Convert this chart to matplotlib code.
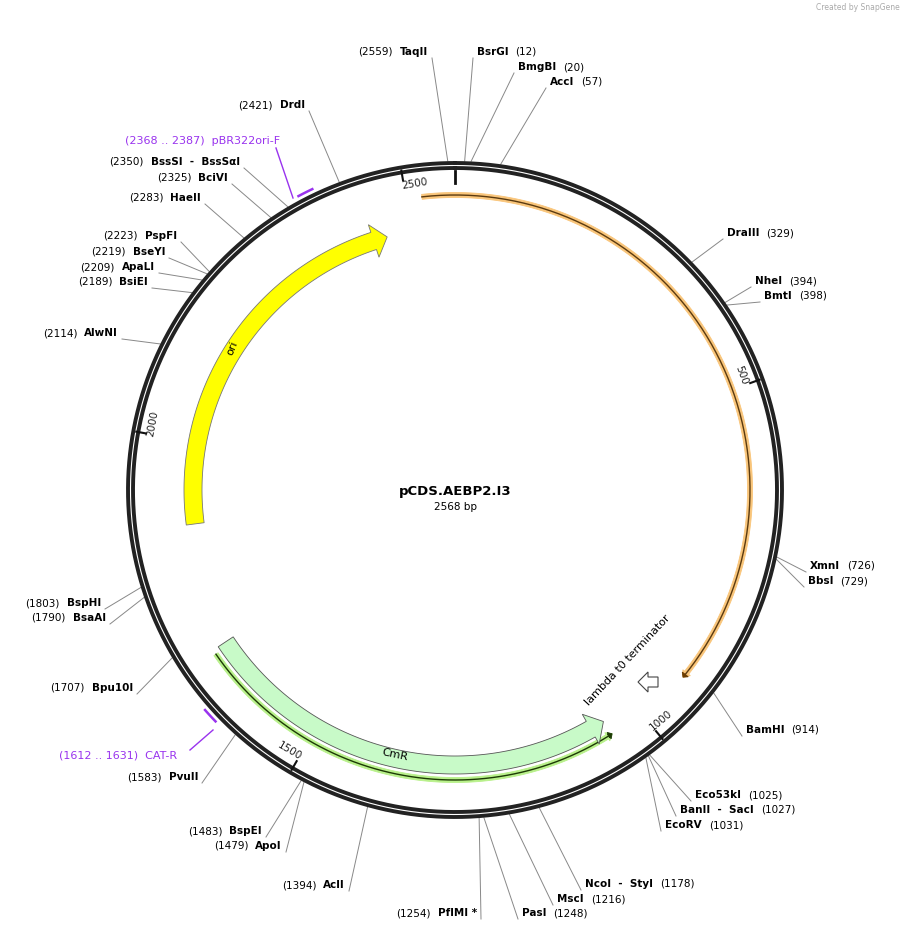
import numpy as np
import matplotlib
matplotlib.use("Agg")
import matplotlib.pyplot as plt
from matplotlib.patches import Polygon

TOTAL = 2568
NAME = "pCDS.AEBP2.I3"
# enzyme sites: name, bp, side, label x (end for L / start for R), label y
enzymes = [
    ("TaqII", 2559, "L", 428, 52), ("DrdI", 2421, "L", 305, 105),
    ("BssSI  -  BssSαI", 2350, "L", 240, 162), ("BciVI", 2325, "L", 228, 178),
    ("HaeII", 2283, "L", 201, 198), ("PspFI", 2223, "L", 177, 236),
    ("BseYI", 2219, "L", 165, 252), ("ApaLI", 2209, "L", 155, 267),
    ("BsiEI", 2189, "L", 148, 282), ("AlwNI", 2114, "L", 118, 333),
    ("BspHI", 1803, "L", 101, 603), ("BsaAI", 1790, "L", 106, 618),
    ("Bpu10I", 1707, "L", 133, 688), ("PvuII", 1583, "L", 198, 777),
    ("BspEI", 1483, "L", 262, 831), ("ApoI", 1479, "L", 282, 846),
    ("AclI", 1394, "L", 345, 885), ("PflMI *", 1254, "L", 477, 913),
    ("BsrGI", 12, "R", 477, 52), ("BmgBI", 20, "R", 518, 67),
    ("AccI", 57, "R", 550, 82), ("DraIII", 329, "R", 727, 233),
    ("NheI", 394, "R", 755, 281), ("BmtI", 398, "R", 764, 296),
    ("XmnI", 726, "R", 810, 566), ("BbsI", 729, "R", 808, 581),
    ("BamHI", 914, "R", 746, 730), ("Eco53kI", 1025, "R", 695, 795),
    ("BanII  -  SacI", 1027, "R", 680, 810), ("EcoRV", 1031, "R", 665, 825),
    ("NcoI  -  StyI", 1178, "R", 585, 884), ("MscI", 1216, "R", 557, 899),
    ("PasI", 1248, "R", 522, 913),
]
ticks = [500, 1000, 1500, 2000, 2500]

CX, CY, R = 455, 490, 327
fig = plt.figure(figsize=(9.07, 9.32), dpi=100)
ax = fig.add_axes([0, 0, 1, 1])
ax.set_xlim(0, 907); ax.set_ylim(932, 0); ax.axis("off")

def th(bp):
    return np.deg2rad(bp / TOTAL * 360.0)

def pt(bp, r):
    t = th(bp)
    return CX + r * np.sin(t), CY - r * np.cos(t)

tt = np.linspace(0, 2 * np.pi, 720)
for r in (R, R - 5):
    ax.plot(CX + r * np.sin(tt), CY - r * np.cos(tt), color="#222", lw=2.8, zorder=3)
ax.plot(*zip(pt(0, R - 8), pt(0, R - 20)), color="#111", lw=2)
for tk in ticks:
    ax.plot(*zip(pt(tk, R - 3), pt(tk, R - 13)), color="#111", lw=1.5, zorder=4)
    deg = tk / TOTAL * 360
    rot = -deg
    if 90 < deg < 270:
        rot += 180
    x, y = pt(tk - 14 if deg < 180 else tk + 14, R - 18)
    ax.text(x, y, str(tk), rotation=rot, ha="center", va="center", fontsize=7.5, color="#222")

def band(b0, b1, r, w, head, fc, ec, lw=0.6, z=4):
    d = 1 if b1 > b0 else -1
    bh = b1 - d * head
    s = np.linspace(b0, bh, 200)
    outer = [pt(b, r + w / 2) for b in s]
    inner = [pt(b, r - w / 2) for b in s[::-1]]
    hp = [pt(bh, r + w / 2 + w * 0.45), pt(b1, r), pt(bh, r - w / 2 - w * 0.45)]
    ax.add_patch(Polygon(outer + hp + inner, closed=True, fc=fc, ec=ec, lw=lw, zorder=z))

band(2522, 923 + TOTAL, 295, 5, 8, "#f9c57a", "#f9c57a", z=4)
s = np.linspace(2522, 918 + TOTAL, 300)
ax.plot(*zip(*[pt(b, 295) for b in s]), color="#5a3a10", lw=1, zorder=5)
band(918 + TOTAL, 923 + TOTAL, 295, 4, 5, "#6b3c00", "#6b3c00", z=5)
band(1680, 1050, 290, 5, 8, "#b8f08a", "#b8f08a", z=4)
s = np.linspace(1680, 1056, 300)
ax.plot(*zip(*[pt(b, 290) for b in s]), color="#1c3a05", lw=1, zorder=5)
band(1056, 1050, 290, 4, 5, "#1c3a05", "#1c3a05", z=5)
band(1873, 2461, 262, 18, 22, "#ffff00", "#777", z=6)
band(1687, 1051, 275, 18, 22, "#c8fac8", "#555", z=6)
ax.text(232, 348, "ori", rotation=68, ha="center", va="center", fontsize=8, zorder=7)
ax.text(395, 755, "CmR", rotation=-12, ha="center", va="center", fontsize=8, zorder=7)
ax.add_patch(Polygon([(638, 682), (648, 672), (648, 677), (658, 677), (658, 687), (648, 687), (648, 692)],
                     closed=True, fc="white", ec="#444", lw=0.8, zorder=6))
ax.text(628, 660, "lambda t0 terminator", rotation=47, ha="center", va="center", fontsize=8)

ax.plot(*zip(*[pt(b, R + 6) for b in np.linspace(2368, 2387, 10)]), color="#9933ee", lw=1.8)
ax.plot([293, 276], [198, 148], color="#9933ee", lw=1)
ax.text(280, 141, "(2368 .. 2387)  pBR322ori-F", ha="right", va="center", fontsize=8, color="#9933ee")
ax.plot(*zip(*[pt(b, R + 6) for b in np.linspace(1612, 1631, 10)]), color="#9933ee", lw=1.8)
ax.plot([213, 190], [730, 750], color="#9933ee", lw=1)
ax.text(177, 756, "(1612 .. 1631)  CAT-R", ha="right", va="center", fontsize=8, color="#9933ee")

fig.canvas.draw()
rend = fig.canvas.get_renderer()
inv = ax.transData.inverted()
for name, bp, side, lx, ly in enzymes:
    x0, y0 = pt(bp, R + 2)
    ax_ = lx + 4 if side == "L" else lx - 4
    ax.plot([x0, ax_], [y0, ly + 6], color="#888", lw=0.7, zorder=2)
    if side == "L":
        t = ax.text(lx, ly, name, ha="right", va="center", fontsize=7.5, fontweight="bold")
        bb = t.get_window_extent(rend)
        xs = inv.transform((bb.x0, bb.y0))[0]
        ax.text(xs - 7, ly, f"({bp})", ha="right", va="center", fontsize=7.5)
    else:
        t = ax.text(lx, ly, name, ha="left", va="center", fontsize=7.5, fontweight="bold")
        bb = t.get_window_extent(rend)
        xe = inv.transform((bb.x1, bb.y0))[0]
        ax.text(xe + 7, ly, f"({bp})", ha="left", va="center", fontsize=7.5)

ax.text(CX, 492, NAME, ha="center", va="center", fontsize=9.5, fontweight="bold")
ax.text(CX, 507, f"{TOTAL} bp", ha="center", va="center", fontsize=7.5)
ax.text(900, 7, "Created by SnapGene", ha="right", va="center", fontsize=5.5, color="#aaa")
fig.savefig("out.png", dpi=100)
